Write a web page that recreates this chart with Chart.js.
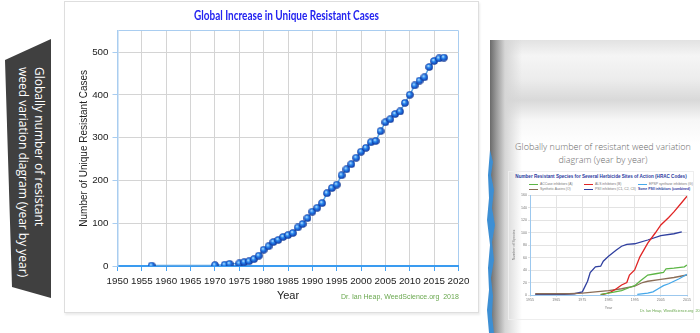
<!DOCTYPE html>
<html>
<head>
<meta charset="utf-8">
<script src="https://cdn.jsdelivr.net/npm/chart.js@4.4.1/dist/chart.umd.min.js"></script>
<style>
html, body { margin: 0; padding: 0; background: #fff; }
body { width: 700px; height: 333px; position: relative; overflow: hidden; font-family: "Liberation Sans", Arial, sans-serif; }
.banner { position: absolute; left: 4px; top: 39px; width: 47px; height: 259px; background: #404040;
  clip-path: polygon(1px 21px, 47px 0, 47px 259px, 8px 248px); }
.banner-text { position: absolute; left: 15px; top: 67px; writing-mode: vertical-rl; color: #fff;
  font-family: "Open Sans", sans-serif; font-size: 12px; line-height: 16px; white-space: nowrap; }
.frame { position: absolute; left: 64px; top: 1px; width: 413px; height: 310px; border: 1px solid #dedede;
  box-shadow: 1px 2px 2px #ececec; }
.frame canvas { position: absolute; left: 0; top: 0; }
.main-title { position: absolute; left: 174px; top: 8px; width: 200px; text-align: center; color: #2323f0;
  font-family: Lato, sans-serif; font-weight: bold; font-size: 12.5px; white-space: nowrap;
  transform: scaleX(0.8); transform-origin: center; }
.credit { position: absolute; left: 341px; top: 293px; color: #6aa84f; font-size: 7px; white-space: nowrap; }
.paper { position: absolute; left: 490px; top: 40px; width: 210px; height: 293px; background: #fff; overflow: hidden; }
.paper-top { position: absolute; left: 0; top: 0; width: 210px; height: 110px;
  background: linear-gradient(to bottom, #e2e2e2 0, #f5f5f5 16px, #ececec 40px, #d9d9d9 60px, #f7f7f7 80px, #fff 105px); }
.paper-left { position: absolute; left: 0; top: 0; width: 34px; height: 293px;
  background: linear-gradient(to right, #6a6a6a 0, #979797 6px, #d6d6d6 15px, rgba(255,255,255,0) 32px); }
.tear { position: absolute; left: 487px; top: 150px; width: 9px; height: 183px; background: #3d8fd4;
  clip-path: polygon(3px 0, 6px 12px, 4px 25px, 7px 40px, 5px 58px, 8px 75px, 5px 92px, 7px 110px, 4px 128px, 6px 146px, 5px 165px, 7px 183px, 2px 183px, 0 160px, 2px 140px, 1px 118px, 3px 95px, 0 70px, 2px 48px, 1px 25px); }
.mini-caption { position: absolute; left: 508px; top: 140px; width: 190px; text-align: center; color: #6a6a6a;
  font-family: "Open Sans", sans-serif; font-size: 9px; line-height: 13px; font-weight: 300; }
.mini-frame { position: absolute; left: 508px; top: 171px; width: 184px; height: 147px; border: 1px solid #eeeeee; }
.mini-title { position: absolute; left: 508px; top: 174px; width: 186px; text-align: center; color: #2a3aa0;
  font-size: 4.6px; font-weight: bold; white-space: nowrap; }
.mini-legend { position: absolute; font-size: 3.4px; color: #777; white-space: nowrap; }
.mini-legend span { display: inline-block; width: 9px; height: 1px; vertical-align: middle; margin-right: 2px; }
.mini-credit { position: absolute; left: 640px; top: 309px; color: #6aa84f; font-size: 3.8px; white-space: nowrap; }
.mini-canvas { position: absolute; left: 508px; top: 190px; }
</style>
</head>
<body>
<div class="banner"></div>
<div class="banner-text">Globally number of resistant<br>weed variation diagram (year by year)</div>

<div class="frame"><canvas id="mainChart" width="413" height="310"></canvas></div>
<div class="main-title">Global Increase in Unique Resistant Cases</div>
<div class="credit">Dr. Ian Heap, WeedScience.org&nbsp; 2018</div>

<div class="paper"><div class="paper-top"></div><div class="paper-left"></div></div>
<div class="tear"></div>
<div class="mini-caption">Globally number of resistant weed variation<br>diagram (year by year)</div>
<div class="mini-frame"></div>
<div class="mini-title">Number Resistant Species for Several Herbicide Sites of Action (HRAC Codes)</div>
<div class="mini-legend" style="left:529px;top:182px"><span style="background:#5cb545"></span>ACCase inhibitors (A)</div>
<div class="mini-legend" style="left:584px;top:182px"><span style="background:#e02424"></span>ALS inhibitors (B)</div>
<div class="mini-legend" style="left:638px;top:182px"><span style="background:#45a8ea"></span>EPSP synthase inhibitors (G)</div>
<div class="mini-legend" style="left:529px;top:187px"><span style="background:#8a6d57"></span>Synthetic Auxins (O)</div>
<div class="mini-legend" style="left:584px;top:187px"><span style="background:#2f3f9f"></span>PSII inhibitors (C1, C2, C3)</div>
<div class="mini-legend" style="left:638px;top:187px;color:#2a3aa0;font-weight:bold">Some PSII inhibitors (combined)</div>
<canvas class="mini-canvas" id="miniChart" width="184" height="128"></canvas>
<div class="mini-credit">Dr. Ian Heap, WeedScience.org&nbsp; 2016</div>

<script>
// main chart: unique resistant cases per year
const years = [1957, 1970, 1972, 1973, 1975, 1976, 1977, 1978, 1979, 1980, 1981, 1982, 1983, 1984, 1985, 1986,
  1987, 1988, 1989, 1990, 1991, 1992, 1993, 1994, 1995, 1996, 1997, 1998, 1999, 2000, 2001, 2002, 2003, 2004,
  2005, 2006, 2007, 2008, 2009, 2010, 2011, 2012, 2013, 2014, 2015, 2016, 2017];
const cases = [1, 2, 3, 5, 6, 9, 11, 16, 24, 38, 46, 56, 61, 68, 72, 77,
  90, 98, 112, 127, 136, 147, 170, 182, 190, 212, 226, 238, 253, 267, 276, 289, 292, 315,
  336, 343, 355, 361, 381, 400, 422, 433, 441, 465, 479, 485, 487];
const xTicks = [1950, 1955, 1960, 1965, 1970, 1975, 1980, 1985, 1990, 1995, 2000, 2005, 2010, 2015, 2020];
const yTicks = [0, 100, 200, 300, 400, 500];

// small chart: resistant species by site of action
const alsYears = [1982, 1984, 1986, 1988, 1990, 1992, 1993, 1995, 1997, 2000, 2003, 2005, 2008, 2010, 2013, 2015];
const alsVals = [0, 2, 5, 10, 16, 20, 32, 40, 61, 83, 100, 112, 124, 133, 148, 158];
const psiiYears = [1957, 1968, 1972, 1975, 1977, 1978, 1980, 1982, 1983, 1985, 1988, 1990, 1992, 1995, 2000, 2005, 2010, 2013];
const psiiVals = [1, 1, 2, 5, 22, 36, 45, 46, 54, 62, 72, 78, 81, 82, 88, 95, 98, 101];
const accYears = [1982, 1985, 1990, 1993, 1995, 1997, 2000, 2003, 2006, 2007, 2010, 2014, 2015];
const accVals = [1, 3, 7, 12, 15, 22, 32, 34, 36, 42, 43, 45, 48];
const auxYears = [1957, 1970, 1975, 1980, 1985, 1990, 1995, 1998, 2000, 2005, 2010, 2015];
const auxVals = [2, 2, 3, 5, 7, 10, 14, 20, 22, 25, 28, 32];
const epspYears = [1996, 2000, 2002, 2004, 2006, 2008, 2010, 2012, 2015];
const epspVals = [1, 3, 5, 10, 15, 18, 22, 26, 33];
const miniXTicks = [1955, 1965, 1975, 1985, 1995, 2005, 2015];

function pts(xs, ys) {
  return xs.map((x, i) => ({ x: x, y: ys[i] }));
}

// little shaded ball used as marker
const ball = document.createElement("canvas");
ball.width = 8;
ball.height = 8;
const bctx = ball.getContext("2d");
const grad = bctx.createRadialGradient(3, 2.8, 0.3, 4, 4, 4);
grad.addColorStop(0, "#bfe6ff");
grad.addColorStop(0.35, "#2a8af0");
grad.addColorStop(0.8, "#1347b8");
grad.addColorStop(1, "#0a2a78");
bctx.fillStyle = grad;
bctx.beginPath();
bctx.arc(4, 4, 3.8, 0, Math.PI * 2);
bctx.fill();

const tickFont = { family: "Liberation Sans", size: 9.8 };

const ctx = document.getElementById("mainChart").getContext("2d");
const mainChart = new Chart(ctx, {
  type: "line",
  data: {
    datasets: [{
      data: pts(years, cases),
      borderColor: "#5ba6e6",
      borderWidth: 1.5,
      pointStyle: ball,
      pointRadius: 4,
    }],
  },
  options: {
    responsive: false,
    animation: false,
    // title sits in the html overlay above, the top padding leaves its room
    layout: { padding: { top: 28.6, right: 19.5, bottom: 0, left: 0 } },
    plugins: {
      legend: { display: false },
      tooltip: { enabled: false },
    },
    scales: {
      x: {
        type: "linear",
        min: 1950,
        max: 2020,
        afterBuildTicks: (s) => { s.ticks = xTicks.map((v) => ({ value: v })); },
        afterFit: (s) => { s.height = 46; },
        ticks: { color: "#222", font: tickFont, padding: 4, maxRotation: 0, autoSkip: false, callback: (v) => String(v) },
        grid: {
          color: (c) => (c.tick && c.tick.value === 2020 ? "#a9cdf0" : "#d4d4d4"),
          tickColor: "#4aa3f0",
          tickLength: 5,
        },
        border: { color: "#3a9bf0", width: 2 },
        title: { display: true, text: "Year", color: "#222", font: { family: "Liberation Sans", size: 11 }, padding: { top: 0, bottom: 9.5 } },
      },
      y: {
        min: 0,
        max: 550,
        afterBuildTicks: (s) => { s.ticks = yTicks.concat([550]).map((v) => ({ value: v })); },
        afterFit: (s) => { s.width = 52.5; },
        ticks: { color: "#222", font: tickFont, padding: 4, callback: (v) => (v === 550 ? "" : v) },
        grid: {
          color: (c) => (c.tick && c.tick.value === 550 ? "#a9cdf0" : "#d4d4d4"),
          tickColor: (c) => (c.tick && c.tick.value === 550 ? "rgba(0,0,0,0)" : "#a9cdf0"),
          tickLength: 5,
        },
        border: { color: "#a9cdf0", width: 1.5 },
        title: { display: true, text: "Number of Unique Resistant Cases", color: "#222", font: { family: "Liberation Sans", size: 10 }, padding: { top: 13, bottom: 0 } },
      },
    },
  },
});

const ctx2 = document.getElementById("miniChart").getContext("2d");
const miniFont = { family: "Liberation Sans", size: 3.6 };
const miniChart = new Chart(ctx2, {
  type: "line",
  data: {
    datasets: [
      { data: pts(accYears, accVals), borderColor: "#5cb545" },
      { data: pts(alsYears, alsVals), borderColor: "#e02424" },
      { data: pts(epspYears, epspVals), borderColor: "#45a8ea" },
      { data: pts(auxYears, auxVals), borderColor: "#8a6d57" },
      { data: pts(psiiYears, psiiVals), borderColor: "#2f3f9f" },
    ],
  },
  options: {
    responsive: false,
    animation: false,
    elements: { point: { radius: 0 }, line: { borderWidth: 1.3 } },
    layout: { padding: { top: 5, right: 5, bottom: 0, left: 0 } },
    plugins: { legend: { display: false }, tooltip: { enabled: false } },
    scales: {
      x: {
        type: "linear",
        min: 1955,
        max: 2015,
        afterBuildTicks: (s) => { s.ticks = miniXTicks.map((v) => ({ value: v })); },
        afterFit: (s) => { s.height = 23; },
        ticks: { color: "#777", font: miniFont, padding: 1, maxRotation: 0, autoSkip: false, callback: (v) => String(v) },
        grid: { color: "#e3e3e3", tickLength: 2 },
        border: { color: "#9cc8ee" },
        title: { display: true, text: "Year", color: "#777", font: miniFont, padding: { top: 0, bottom: 8 } },
      },
      y: {
        min: 0,
        max: 160,
        ticks: { stepSize: 20, color: "#777", font: miniFont, padding: 1 },
        afterFit: (s) => { s.width = 22; },
        grid: { color: "#e3e3e3", tickLength: 2 },
        border: { color: "#9cc8ee" },
        title: { display: true, text: "Number of Species", color: "#777", font: miniFont, padding: { top: 4, bottom: 0 } },
      },
    },
  },
});
</script>
</body>
</html>
